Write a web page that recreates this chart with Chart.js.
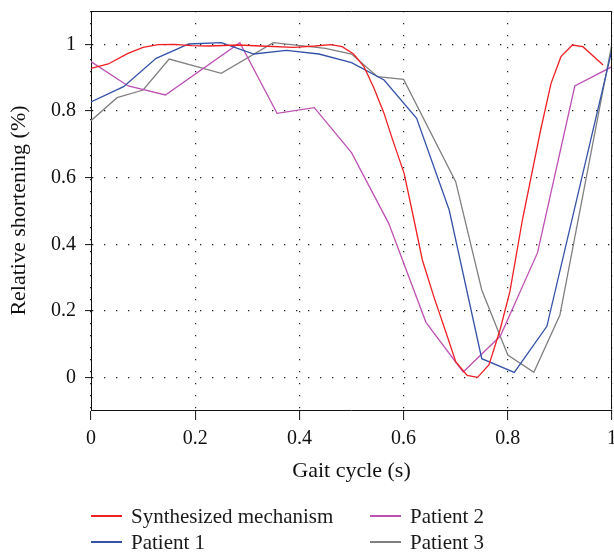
<!DOCTYPE html>
<html>
<head>
<meta charset="utf-8">
<script src="https://cdn.jsdelivr.net/npm/chart.js"></script>
<style>
  html, body { margin: 0; padding: 0; background: #fff; }
  #wrap { position: relative; width: 614px; height: 553px; }
  #legend { position: absolute; left: 0; top: 0; width: 614px; height: 553px; pointer-events: none;
            font-family: "Liberation Serif", serif; font-size: 21px; color: #1a1a1a; }
  .item { position: absolute; height: 24px; line-height: 24px; white-space: nowrap; }
  .item span.swatch { position: absolute; left: 0; top: 11px; width: 31px; height: 1.5px; }
  .item span.label { position: absolute; left: 40px; top: 0; }
</style>
</head>
<body>
<div id="wrap">
  <canvas id="chart" width="614" height="553"></canvas>
  <div id="legend"></div>
</div>
<script>
// Synthesized mechanism
const synthX = [0, 0.033, 0.071, 0.100, 0.129, 0.160, 0.193, 0.225, 0.283, 0.325, 0.389, 0.430, 0.460, 0.482,
  0.504, 0.524, 0.543, 0.562, 0.578, 0.601, 0.620, 0.636, 0.658, 0.683, 0.700, 0.722, 0.742, 0.764, 0.785,
  0.804, 0.828, 0.863, 0.883, 0.902, 0.924, 0.944, 0.983];
const synthY = [0.928, 0.941, 0.973, 0.991, 0.999, 1.000, 0.996, 0.995, 0.998, 0.995, 0.991, 0.995, 0.999, 0.993,
  0.971, 0.933, 0.869, 0.795, 0.718, 0.613, 0.473, 0.353, 0.243, 0.128, 0.048, 0.007, 0.001, 0.039, 0.143,
  0.258, 0.473, 0.743, 0.883, 0.963, 0.998, 0.993, 0.938];

// Patient 1
const p1X = [0, 0.0625, 0.125, 0.1875, 0.25, 0.3125, 0.375, 0.4375, 0.5, 0.5625, 0.625, 0.6875, 0.75, 0.8125, 0.875, 1.0];
const p1Y = [0.827, 0.873, 0.958, 1.001, 1.005, 0.971, 0.982, 0.971, 0.945, 0.893, 0.778, 0.503, 0.057, 0.016, 0.154, 0.985];

// Patient 2
const p2X = [0, 0.0714, 0.1429, 0.2857, 0.3571, 0.4286, 0.5, 0.5714, 0.6429, 0.7143, 0.7857, 0.8571, 0.9286, 1.0];
const p2Y = [0.948, 0.875, 0.848, 1.005, 0.793, 0.810, 0.675, 0.463, 0.166, 0.017, 0.125, 0.375, 0.875, 0.933];

// Patient 3
const p3X = [0, 0.05, 0.10, 0.15, 0.25, 0.35, 0.45, 0.50, 0.55, 0.60, 0.70, 0.75, 0.80, 0.85, 0.90, 1.0];
const p3Y = [0.771, 0.840, 0.863, 0.956, 0.913, 1.005, 0.988, 0.971, 0.903, 0.895, 0.588, 0.263, 0.068, 0.016, 0.188, 1.003];

const xTicks = [0, 0.2, 0.4, 0.6, 0.8, 1];
const yTicks = [0, 0.2, 0.4, 0.6, 0.8, 1];

const toPoints = (xs, ys) => xs.map((x, i) => ({ x: x, y: ys[i] }));

const series = [
  { label: 'Synthesized mechanism', color: 'rgb(238, 32, 36)', xs: synthX, ys: synthY },
  { label: 'Patient 1', color: 'rgb(52, 82, 168)', xs: p1X, ys: p1Y },
  { label: 'Patient 2', color: 'rgb(190, 82, 180)', xs: p2X, ys: p2Y },
  { label: 'Patient 3', color: 'rgb(128, 128, 128)', xs: p3X, ys: p3Y }
];

const serif = 'Liberation Serif';

// box round the plot area (top and right sides; snapped to pixel centres)
const frame = {
  id: 'frame',
  afterDraw(chart) {
    const { ctx, chartArea: a } = chart;
    const l = Math.round(a.left) + 0.5, t = Math.round(a.top) + 0.5;
    const r = Math.round(a.right) - 0.5, b = Math.round(a.bottom) - 0.5;
    ctx.save();
    ctx.strokeStyle = '#111';
    ctx.lineWidth = 1;
    ctx.beginPath();
    ctx.moveTo(l, t);
    ctx.lineTo(r, t);
    ctx.lineTo(r, b);
    ctx.stroke();
    ctx.restore();
  }
};

const chart = new Chart(document.getElementById('chart'), {
  type: 'line',
  data: {
    datasets: series.map(s => ({
      label: s.label,
      data: toPoints(s.xs, s.ys),
      borderColor: s.color,
      backgroundColor: s.color,
      borderWidth: 1.3,
      pointRadius: 0,
      tension: 0,
      fill: false
    }))
  },
  options: {
    responsive: false,
    animation: false,
    layout: { padding: { top: 11, right: 2, left: 0, bottom: 63 } },
    plugins: { legend: { display: false }, tooltip: { enabled: false } },
    scales: {
      x: {
        type: 'linear',
        min: 0, max: 1,
        afterBuildTicks: scale => { scale.ticks = xTicks.map(v => ({ value: v })); },
        afterFit: scale => { scale.height = 80; scale.paddingLeft = 0; scale.paddingRight = 0; },
        ticks: {
          padding: 7,
          color: '#111',
          font: { family: serif, size: 20 },
          maxRotation: 0,
          callback: v => String(v)
        },
        grid: { color: '#222', lineWidth: 1.2, tickLength: 10, tickColor: '#111', tickWidth: 1 },
        border: { color: '#111', width: 1, dash: [1.3, 10.7] },
        title: {
          display: true, text: 'Gait cycle (s)', color: '#111',
          font: { family: serif, size: 22 }, padding: { top: 0, bottom: 6 }
        }
      },
      y: {
        type: 'linear',
        min: -0.097, max: 1.1,
        afterBuildTicks: scale => { scale.ticks = yTicks.map(v => ({ value: v })); },
        afterFit: scale => { scale.width = 91; scale.paddingTop = 0; scale.paddingBottom = 0; },
        ticks: {
          padding: 9,
          color: '#111',
          font: { family: serif, size: 20 },
          callback: v => String(v)
        },
        grid: { color: '#222', lineWidth: 1.2, tickLength: 6, tickColor: '#111', tickWidth: 1 },
        border: { color: '#111', width: 1, dash: [1.3, 10.7] },
        title: {
          display: true, text: 'Relative shortening (%)', color: '#111',
          font: { family: serif, size: 22 }, padding: { top: 6, bottom: 0 }
        }
      }
    }
  },
  plugins: [frame]
});

// legend below the chart, two columns
const legendPos = [
  { left: 91, top: 504 },
  { left: 91, top: 530 },
  { left: 370, top: 504 },
  { left: 370, top: 530 }
];
const legend = document.getElementById('legend');
chart.data.datasets.forEach((ds, i) => {
  const item = document.createElement('div');
  item.className = 'item';
  item.style.left = legendPos[i].left + 'px';
  item.style.top = legendPos[i].top + 'px';
  const sw = document.createElement('span');
  sw.className = 'swatch';
  sw.style.backgroundColor = ds.borderColor;
  const lb = document.createElement('span');
  lb.className = 'label';
  lb.textContent = ds.label;
  item.appendChild(sw);
  item.appendChild(lb);
  legend.appendChild(item);
});
</script>
</body>
</html>
